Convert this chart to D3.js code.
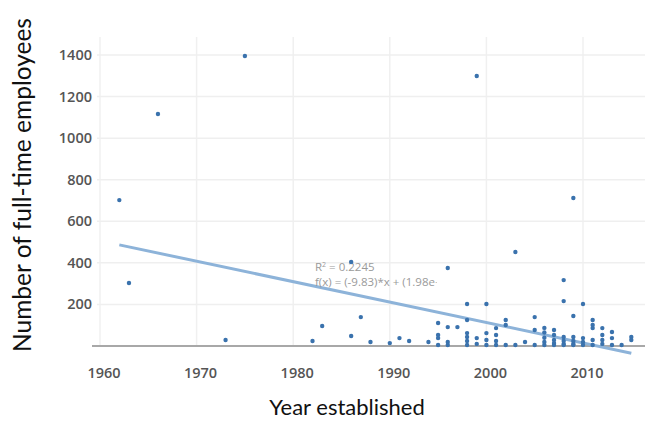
<!DOCTYPE html>
<html>
<head>
	<meta charset="utf-8">
	<title>Year established vs full-time employees</title>
	<script src="https://d3js.org/d3.v7.min.js"></script>
	<style>
		body { margin: 0; background: #fff; }
	</style>
</head>
<body>
	<script>
		// Data: [year established, full-time employees]
		const years = [
			1962, 1963, 1966, 1973, 1975, 1982, 1983, 1986, 1986, 1987, 1988, 1990, 1991, 1992,
			1994, 1995, 1995, 1995, 1995, 1996, 1996, 1996, 1996, 1997,
			1998, 1998, 1998, 1998, 1998, 1998, 1999, 1999, 1999,
			2000, 2000, 2000, 2000, 2001, 2001, 2001, 2001, 2002, 2002, 2002, 2003, 2003, 2004,
			2005, 2005, 2005, 2006, 2006, 2006, 2006, 2006, 2007, 2007, 2007, 2007, 2007,
			2008, 2008, 2008, 2008, 2008, 2008, 2009, 2009, 2009, 2009, 2009, 2009,
			2010, 2010, 2010, 2010, 2011, 2011, 2011, 2011, 2011, 2012, 2012, 2012, 2012,
			2013, 2013, 2013, 2014, 2015, 2015
		];
		const employees = [
			702, 303, 1116, 29, 1395, 24, 96, 404, 48, 139, 19, 14, 38, 24,
			19, 111, 53, 38, 5, 375, 91, 19, 5, 91,
			202, 125, 62, 43, 24, 5, 1299, 38, 10,
			202, 62, 29, 5, 86, 53, 24, 5, 125, 101, 5, 452, 5, 19,
			139, 77, 5, 87, 65, 40, 19, 5, 77, 53, 29, 14, 5,
			317, 216, 43, 24, 10, 5, 712, 144, 43, 24, 10, 5,
			202, 38, 19, 5, 125, 101, 86, 29, 5, 86, 53, 29, 10,
			67, 38, 5, 5, 43, 29
		];
		const yearTicks = [1960, 1970, 1980, 1990, 2000, 2010];
		const employeeTicks = [200, 400, 600, 800, 1000, 1200, 1400];

		// Linear fit shown on the chart
		const trendSlope = -9.83;
		const trendIntercept = 19773;
		const rSquared = 0.2245;

		const data = years.map((y, i) => ({ year: y, value: employees[i] }));

		const W = 645, H = 421;
		const svg = d3.select('body').append('svg')
			.attr('width', W).attr('height', H);

		const xScale = d3.scaleLinear().domain([1960, 2010]).range([100, 583]);
		const yScale = d3.scaleLinear().domain([0, 1400]).range([346, 55]);

		const plotLeft = 92, plotRight = W, plotTop = 37, baseY = yScale(0);

		// Grid
		svg.append('g').selectAll('line').data(yearTicks).enter().append('line')
			.attr('x1', d => xScale(d)).attr('x2', d => xScale(d))
			.attr('y1', plotTop).attr('y2', baseY)
			.attr('stroke', '#f0f0f0').attr('stroke-width', 1.5);
		svg.append('g').selectAll('line').data(employeeTicks).enter().append('line')
			.attr('x1', 97).attr('x2', plotRight)
			.attr('y1', d => yScale(d)).attr('y2', d => yScale(d))
			.attr('stroke', '#efefef').attr('stroke-width', 1.5);

		// Axis baseline
		svg.append('line')
			.attr('x1', plotLeft).attr('x2', plotRight)
			.attr('y1', baseY).attr('y2', baseY)
			.attr('stroke', '#a8a8a8').attr('stroke-width', 2);

		// Tick labels
		svg.append('g').selectAll('text').data(yearTicks).enter().append('text')
			.attr('x', d => xScale(d) + 4).attr('y', 378)
			.attr('text-anchor', 'middle')
			.style('font-family', 'Open Sans').style('font-size', '14.5px')
			.style('font-weight', 600).style('fill', '#555')
			.text(d => d);
		svg.append('g').selectAll('text').data(employeeTicks).enter().append('text')
			.attr('x', 92).attr('y', d => yScale(d) + 5)
			.attr('text-anchor', 'end')
			.style('font-family', 'Open Sans').style('font-size', '14.5px')
			.style('font-weight', 600).style('fill', '#555')
			.text(d => d);

		// Trend line
		const xExt = d3.extent(data, d => d.year);
		svg.append('line')
			.attr('x1', xScale(xExt[0])).attr('y1', yScale(trendSlope * xExt[0] + trendIntercept))
			.attr('x2', xScale(xExt[1])).attr('y2', yScale(trendSlope * xExt[1] + trendIntercept))
			.attr('stroke', '#8db3d9').attr('stroke-width', 3);

		// Fit annotation (clipped like the original)
		svg.append('clipPath').attr('id', 'annClip')
			.append('rect').attr('x', 300).attr('y', 250).attr('width', 137).attr('height', 45);
		const ann = svg.append('g').attr('clip-path', 'url(#annClip)')
			.style('font-family', 'Open Sans').style('font-size', '11.5px').style('fill', '#9a9a9a');
		const r2 = ann.append('text').attr('x', 315).attr('y', 271);
		r2.append('tspan').text('R');
		r2.append('tspan').attr('dy', -4).style('font-size', '7px').text('2');
		r2.append('tspan').attr('dy', 4).text(' = ' + rSquared);
		ann.append('text').attr('x', 315).attr('y', 286)
			.text('f(x) = (' + trendSlope + ')*x + (1.98e+4)');

		// Points
		svg.append('g').selectAll('circle').data(data).enter().append('circle')
			.attr('cx', d => xScale(d.year))
			.attr('cy', d => yScale(d.value))
			.attr('r', 2.2)
			.style('fill', '#3a72ad');

		// Axis titles
		svg.append('text')
			.attr('transform', 'translate(31, 185) rotate(-90)')
			.attr('text-anchor', 'middle')
			.style('font-family', 'Lato').style('font-size', '24.5px').style('fill', '#111')
			.text('Number of full-time employees');
		svg.append('text')
			.attr('x', 347).attr('y', 415)
			.attr('text-anchor', 'middle')
			.style('font-family', 'Lato').style('font-size', '22px').style('fill', '#111')
			.text('Year established');
	</script>
</body>
</html>
